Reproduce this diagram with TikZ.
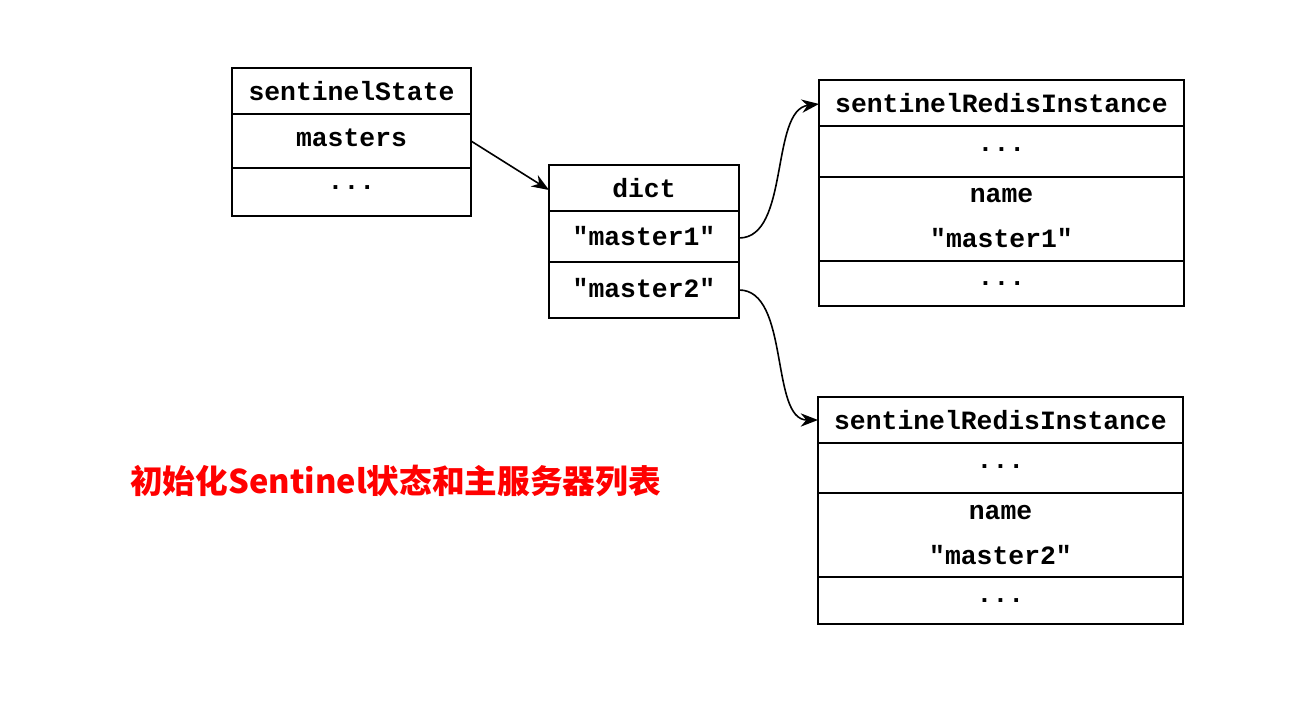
\documentclass[tikz,border=0pt]{standalone}
\usepackage{fontspec}
\setmonofont{Liberation Mono}
\newfontfamily\cjk{Noto Sans CJK SC}
\usetikzlibrary{arrows.meta}
\begin{document}
\begin{tikzpicture}[x=0.75pt,y=-0.75pt,
  box/.style={draw,line width=1.6pt},
  lbl/.style={font=\ttfamily\bfseries\fontsize{19.8}{22}\selectfont,anchor=center,inner sep=0},
  arr/.style={line width=1.2pt,-{Stealth[length=13pt,width=10pt]}}]
\useasboundingbox (0,0) rectangle (1304,712);
% sentinelState
\draw[box] (232,68) rectangle (471,216);
\draw[box] (232,114) -- (471,114) (232,168) -- (471,168);
\node[lbl] (ss) at (351.5,91) {sentinelState};
\node[lbl] (ms) at (351.5,138) {masters};
\node[lbl] at (351.5,188) {...};
% dict
\draw[box] (549,165) rectangle (739,318);
\draw[box] (549,211) -- (739,211) (549,262) -- (739,262);
\node[lbl] (d) at (644,188) {dict};
\node[lbl] (m1) at (644,236) {"master1"};
\node[lbl] (m2) at (644,288) {"master2"};
% SRI1
\draw[box] (819,80) rectangle (1184,306);
\draw[box] (819,126) -- (1184,126) (819,177) -- (1184,177) (819,261) -- (1184,261);
\node[lbl] (s1) at (1001.5,103) {sentinelRedisInstance};
\node[lbl] at (1001.5,150) {...};
\node[lbl] at (1001.5,196) {name};
\node[lbl] at (1001.5,238) {"master1"};
\node[lbl] at (1001.5,284) {...};
% SRI2
\draw[box] (818,397) rectangle (1183,624);
\draw[box] (818,443) -- (1183,443) (818,493) -- (1183,493) (818,577) -- (1183,577);
\node[lbl] (s2) at (1000.5,420) {sentinelRedisInstance};
\node[lbl] at (1000.5,467) {...};
\node[lbl] at (1000.5,513) {name};
\node[lbl] at (1000.5,555) {"master2"};
\node[lbl] at (1000.5,601) {...};
% connectors
\coordinate (a0) at (471,141); \coordinate (a1) at (549,190);
\coordinate (b0) at (739,238); \coordinate (b1) at (819,104);
\coordinate (c0) at (739,290); \coordinate (c1) at (818,420);
\draw[arr] (a0) -- (a1);
\draw[arr] (b0) .. controls (790,238) and (770,110) .. (b1);
\draw[arr] (c0) .. controls (790,290) and (770,420) .. (c1);
% title
\node[anchor=west,text=red,inner sep=0,font=\cjk\bfseries\fontsize{24.5}{28}\selectfont] (t) at (130,481) {初始化Sentinel状态和主服务器列表};
\end{tikzpicture}
\end{document}
